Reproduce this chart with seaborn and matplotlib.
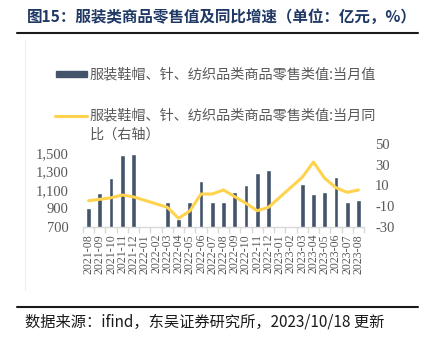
import numpy as np
import pandas as pd
import matplotlib
matplotlib.use("Agg")
import matplotlib.pyplot as plt
import seaborn as sns
from matplotlib.lines import Line2D

months = ["2021-08", "2021-09", "2021-10", "2021-11", "2021-12",
          "2022-01", "2022-02", "2022-03", "2022-04", "2022-05", "2022-06",
          "2022-07", "2022-08", "2022-09", "2022-10", "2022-11", "2022-12",
          "2023-01", "2023-02", "2023-03", "2023-04", "2023-05", "2023-06",
          "2023-07", "2023-08"]
retail_value = [910, 1067, 1227, 1478, 1486,
                np.nan, np.nan, 967, 786, 967, 1197,
                970, 970, 1075, 1157, 1280, 1320,
                np.nan, np.nan, 1168, 1057, 1078, 1237,
                970, 989]
yoy_growth = [-4.7, -3.3, -1.8, 0.8, -1.0,
              np.nan, np.nan, -11.0, -21.6, -14.6, 1.8,
              1.8, 5.7, -0.8, -7.2, -14.3, -11.0,
              np.nan, np.nan, 17.9, 32.6, 17.0, 7.9,
              3.4, 5.7]
left_ticks = [700, 900, 1100, 1300, 1500]
right_ticks = [-30, -10, 10, 30, 50]

title = "图15：服装类商品零售值及同比增速（单位：亿元，%）"
bar_label = "服装鞋帽、针、纺织品类商品零售类值:当月值"
line_label = "服装鞋帽、针、纺织品类商品零售类值:当月同\n比（右轴）"
source = "数据来源：ifind，东吴证券研究所，2023/10/18 更新"

sns.set_theme(style="white")
plt.rcParams["font.family"] = ["Noto Sans CJK SC", "DejaVu Sans"]

BAR_C = "#44546a"
LINE_C = "#ffd34e"
TXT_C = "#595959"

df = pd.DataFrame({"month": months, "value": retail_value,
                   "yoy": yoy_growth, "pos": np.arange(len(months))})

fig = plt.figure(figsize=(4.27, 3.40), dpi=100)
ax = fig.add_axes([83/427, 1-227/340, (364-83)/427, (227-144)/340])

sns.barplot(data=df, x="month", y="value", color=BAR_C, width=0.42,
            saturation=1, ax=ax, order=months)
ax.set_xlim(-0.5, len(months)-0.5)
ax.set_ylim(700, 1597)
ax.set_yticks(left_ticks)
ax.set_yticklabels([f"{v:,}" for v in left_ticks], family="Liberation Serif",
                   fontsize=10.5, color=TXT_C)
ax.set_xticks(np.arange(len(months)))
ax.set_xticklabels(months, rotation=90, family="Liberation Serif",
                   fontsize=8.6, color=TXT_C)
ax.set_xlabel("")
ax.set_ylabel("")
for s in ["top", "right", "left"]:
    ax.spines[s].set_visible(False)
ax.spines["bottom"].set_color("#d9d9d9")
ax.spines["bottom"].set_linewidth(1.0)
ax.tick_params(axis="y", length=0, pad=10.5)
ax.tick_params(axis="x", length=0, pad=5)
ax.set_xticks(np.arange(-0.5, len(months)), minor=True)
ax.tick_params(axis="x", which="minor", length=4, color="#d9d9d9", width=1,
               direction="out", bottom=True)

ax2 = ax.twinx()
dl = df.dropna(subset=["yoy"])
sns.lineplot(data=dl, x="pos", y="yoy", color=LINE_C, linewidth=2.2,
             ax=ax2, legend=False)
ax2.set_ylim(-30, 50)
ax2.set_yticks(right_ticks)
ax2.set_yticklabels([str(v) for v in right_ticks], family="Liberation Serif",
                    fontsize=10.5, color=TXT_C)
ax2.set_xlim(-0.5, len(months)-0.5)
ax2.set_xlabel("")
ax2.set_ylabel("")
for s in ["top", "right", "left", "bottom"]:
    ax2.spines[s].set_visible(False)
ax2.tick_params(axis="y", length=0, pad=8)

# title and rules
fig.text(27/427, 1-17/340, title, fontsize=11.2, fontweight="bold",
         color="#1f3864", ha="left", va="center")
fig.add_artist(Line2D([17/427, 418/427], [1-33/340, 1-33/340],
                      color="#1a1a1a", linewidth=1.5))
fig.add_artist(Line2D([17/427, 418/427], [1-307/340, 1-307/340],
                      color="#1a1a1a", linewidth=1.5))
fig.add_artist(Line2D([25/427, 25/427], [1-290/340, 1-40/340],
                      color="#eeeeee", linewidth=0.8))

# legend
fig.add_artist(plt.Rectangle((56/427, 1-77/340), 31/427, 6/340,
                             color=BAR_C, transform=fig.transFigure))
fig.text(90/427, 1-74/340, bar_label, fontsize=10.2, color=TXT_C,
         ha="left", va="center")
fig.add_artist(Line2D([55/427, 87/427], [1-116/340, 1-116/340],
                      color=LINE_C, linewidth=2.2))
fig.text(90/427, 1-125/340, line_label, fontsize=10.2, color=TXT_C,
         ha="left", va="center", linespacing=1.45)

fig.text(25/427, 1-322/340, source, fontsize=11, color="#1a1a1a",
         ha="left", va="center")

fig.savefig("out.png", dpi=100)
